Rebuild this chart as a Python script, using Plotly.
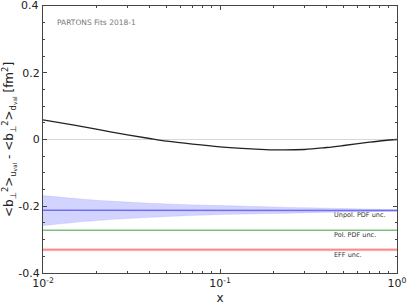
import numpy as np
import plotly.graph_objects as go

# data
x_curve = [0.01, 0.015, 0.02, 0.03, 0.04, 0.05, 0.07, 0.1, 0.15, 0.2, 0.3, 0.4, 0.5, 0.7, 0.85, 1.0]
y_curve = [0.059, 0.043, 0.031, 0.014, 0.003, -0.005, -0.014, -0.022, -0.028, -0.031, -0.030, -0.024, -0.018, -0.008, -0.003, 0.0]

x_band = [0.01, 0.02, 0.05, 0.1, 0.2, 0.5, 1.0]
unpol_center = [-0.212, -0.212, -0.212, -0.212, -0.212, -0.2125, -0.213]
unpol_upper = [-0.168, -0.182, -0.193, -0.198, -0.202, -0.207, -0.210]
unpol_lower = [-0.258, -0.243, -0.231, -0.225, -0.222, -0.217, -0.215]

x_flat = [0.01, 1.0]
pol_center = [-0.272, -0.272]
eff_center = [-0.330, -0.330]
eff_upper = [-0.3265, -0.3265]
eff_lower = [-0.3335, -0.3335]

y_tickvals = [-0.4, -0.2, 0, 0.2]
y_ticktext = ["-0.4", "-0.2", "0", "0.2"]
y_top_label = "0.4"

fig = go.Figure()

# zero line
fig.add_trace(go.Scatter(x=[0.01, 1.0], y=[0, 0], mode="lines",
                         line=dict(color="#d8d8d8", width=1), hoverinfo="skip", showlegend=False))

# unpol band
fig.add_trace(go.Scatter(x=x_band, y=unpol_upper, mode="lines", line=dict(color="rgba(120,120,255,0.35)", width=0.5),
                         showlegend=False, line_shape="spline"))
fig.add_trace(go.Scatter(x=x_band, y=unpol_lower, mode="lines", line=dict(color="rgba(120,120,255,0.35)", width=0.5),
                         fill="tonexty", fillcolor="rgba(110,110,255,0.3)", showlegend=False, line_shape="spline"))
fig.add_trace(go.Scatter(x=x_band, y=unpol_center, mode="lines", line=dict(color="#7070ee", width=1.5),
                         showlegend=False))

# pol
fig.add_trace(go.Scatter(x=x_flat, y=pol_center, mode="lines", line=dict(color="#7fbf7f", width=1.5),
                         showlegend=False))

# eff band
fig.add_trace(go.Scatter(x=x_flat, y=eff_upper, mode="lines", line=dict(color="rgba(255,120,120,0.4)", width=0.5),
                         showlegend=False))
fig.add_trace(go.Scatter(x=x_flat, y=eff_lower, mode="lines", line=dict(color="rgba(255,120,120,0.4)", width=0.5),
                         fill="tonexty", fillcolor="rgba(255,120,120,0.35)", showlegend=False))
fig.add_trace(go.Scatter(x=x_flat, y=eff_center, mode="lines", line=dict(color="#ff8888", width=1.5),
                         showlegend=False))

# central curve
fig.add_trace(go.Scatter(x=x_curve, y=y_curve, mode="lines", line=dict(color="#222222", width=1.3),
                         line_shape="spline", showlegend=False))

minor_x = [k * 10**e for e in (-2, -1) for k in range(2, 10)]

fig.update_layout(
    width=407, height=305,
    margin=dict(l=43, r=10, t=6, b=32),
    plot_bgcolor="white", paper_bgcolor="white",
    font=dict(family="DejaVu Sans", size=11, color="#222222"),
    xaxis=dict(type="log", range=[-2, 0], showgrid=False, zeroline=False, automargin=False,
               showline=True, linecolor="#444444", linewidth=1, mirror="ticks",
               ticks="inside", ticklen=4, tickcolor="#444444",
               tickvals=[0.01, 0.1, 1], ticktext=["10<sup>-2</sup>", "10<sup>-1</sup>", "10<sup>0</sup>"],
               tickfont=dict(size=11),
               minor=dict(tickvals=minor_x, ticks="inside", ticklen=2, tickcolor="#444444"),
               title=dict(text="x", font=dict(size=12), standoff=4)),
    yaxis=dict(range=[-0.4, 0.4], showgrid=False, zeroline=False, automargin=False,
               showline=True, linecolor="#444444", linewidth=1, mirror="ticks",
               ticks="inside", ticklen=4, tickcolor="#444444",
               tickvals=y_tickvals, ticktext=y_ticktext,
               tickfont=dict(size=11),
               minor=dict(dtick=0.05, ticks="inside", ticklen=2, tickcolor="#444444"),
               title=dict(text="<b<sub>⊥</sub><sup>2</sup>><sub>u<sub>val</sub></sub> - <b<sub>⊥</sub><sup>2</sup>><sub>d<sub>val</sub></sub> [fm<sup>2</sup>]",
                          font=dict(size=12), standoff=0)),
)

# top tick label (would otherwise be culled at the paper edge)
fig.add_annotation(x=0, y=0.4, xref="paper", yref="y", text=y_top_label, showarrow=False,
                   xanchor="right", yanchor="middle", xshift=-2, yshift=1,
                   font=dict(size=11, color="#222222"))

fig.add_annotation(x=0.035, y=0.94, xref="paper", yref="paper", text="PARTONS Fits 2018-1",
                   showarrow=False, xanchor="left", yanchor="middle",
                   font=dict(size=7.5, color="#777777"))
for txt, yv in [("Unpol. PDF unc.", -0.226), ("Pol. PDF unc.", -0.285), ("EFF unc.", -0.346)]:
    fig.add_annotation(x=-0.37, y=yv, xref="x", yref="y", text=txt, showarrow=False,
                       xanchor="left", yanchor="middle", font=dict(size=6.5, color="#333333"))

fig.write_html("out.html", config={"displayModeBar": False},
               post_script="document.body.style.margin='0';document.body.style.overflow='hidden';")
